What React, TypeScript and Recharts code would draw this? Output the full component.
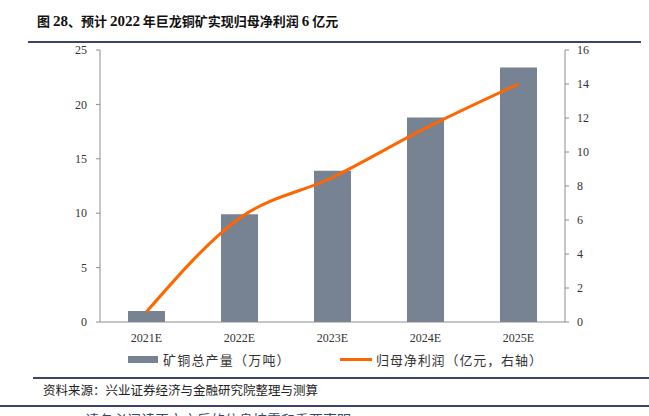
import React from 'react'
import { ComposedChart, Bar, Line, XAxis, YAxis } from 'recharts'

const years = ['2021E', '2022E', '2023E', '2024E', '2025E']
const copperOutput = [1.0, 9.9, 13.9, 18.8, 23.4]
const netProfit = [0.6, 6.1, 8.5, 11.4, 14.0]
const leftTicks = [0, 5, 10, 15, 20, 25]
const rightTicks = [0, 2, 4, 6, 8, 10, 12, 14, 16]

const data = years.map((year, i) => ({ year, output: copperOutput[i], profit: netProfit[i] }))

const NAVY = '#3d4370'
const serif = '"Liberation Serif", "Times New Roman", serif'
const cjk = '"Noto Sans CJK SC", sans-serif'
const tick = { fontSize: 12, fill: '#333', fontFamily: serif }
const axisLine = { stroke: '#8c8c8c' }

export default function App() {
  return (
    <div style={{ position: 'absolute', left: 0, top: 0, width: 649, height: 416, overflow: 'hidden', background: '#fff', fontFamily: cjk }}>
      <div style={{ position: 'absolute', left: 37, top: 11, fontSize: 13, fontWeight: 700, color: '#111', whiteSpace: 'nowrap' }}>
        图 <span style={{ fontFamily: serif, fontSize: 15 }}>28</span>、预计 <span style={{ fontFamily: serif, fontSize: 15 }}>2022</span> 年巨龙铜矿实现归母净利润 <span style={{ fontFamily: serif, fontSize: 15 }}>6</span> 亿元
      </div>
      <div style={{ position: 'absolute', left: 28, top: 41, width: 613, height: 2, background: NAVY }} />

      <div style={{ position: 'absolute', left: 0, top: 0 }}>
        <ComposedChart width={649} height={352} data={data} margin={{ top: 50, right: 40, left: 50, bottom: 0 }} barCategoryGap="60%">
          <XAxis dataKey="year" tick={tick} axisLine={axisLine} tickLine={false} tickSize={5} tickMargin={6} height={30} />
          <YAxis yAxisId="left" domain={[0, 25]} ticks={leftTicks} tick={tick} axisLine={axisLine} tickLine={{ stroke: '#8c8c8c' }} tickSize={4} tickMargin={9} width={50} interval={0} />
          <YAxis yAxisId="right" orientation="right" domain={[0, 16]} ticks={rightTicks} tick={{ ...tick, textAnchor: 'start' }} axisLine={axisLine} tickLine={{ stroke: '#8c8c8c' }} tickSize={4} tickMargin={8} width={44} interval={0} />
          <Bar yAxisId="left" dataKey="output" fill="#778293" barSize={37} isAnimationActive={false} />
          <Line yAxisId="right" dataKey="profit" type="monotone" stroke="#ff6600" strokeWidth={3} dot={false} isAnimationActive={false} />
        </ComposedChart>
      </div>

      <div style={{ position: 'absolute', left: 128, top: 350, display: 'flex', alignItems: 'center', fontSize: 13, letterSpacing: 1.2, color: '#333', whiteSpace: 'nowrap' }}>
        <span style={{ display: 'inline-block', width: 30, height: 7, background: '#778293', marginRight: 5 }} />
        矿铜总产量（万吨）
      </div>
      <div style={{ position: 'absolute', left: 340, top: 350, display: 'flex', alignItems: 'center', fontSize: 13, letterSpacing: 0.9, color: '#333', whiteSpace: 'nowrap' }}>
        <span style={{ display: 'inline-block', width: 32, height: 3, background: '#ff6600', marginRight: 4 }} />
        归母净利润（亿元，右轴）
      </div>

      <div style={{ position: 'absolute', left: 33, top: 377, width: 616, height: 2, background: NAVY }} />
      <div style={{ position: 'absolute', left: 43, top: 380, fontSize: 12.5, color: '#222', whiteSpace: 'nowrap' }}>
        资料来源：兴业证券经济与金融研究院整理与测算
      </div>
      <div style={{ position: 'absolute', left: 0, top: 405, width: 649, height: 2, background: NAVY }} />
      <div style={{ position: 'absolute', left: 85, top: 409, fontSize: 14, color: NAVY, whiteSpace: 'nowrap' }}>
        请务必阅读正文之后的信息披露和重要声明
      </div>
    </div>
  )
}
